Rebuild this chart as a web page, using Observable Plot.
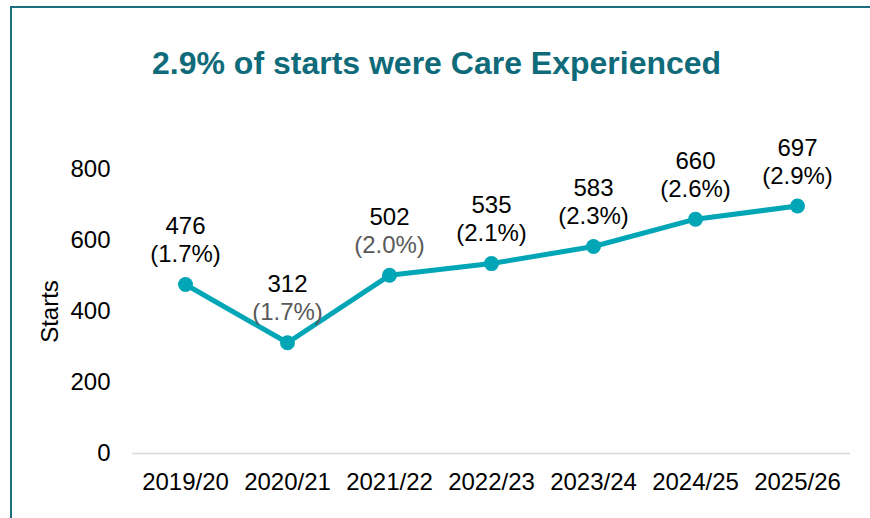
<!DOCTYPE html>
<html>
<head>
<meta charset="utf-8">
<script src="https://cdn.jsdelivr.net/npm/d3@7"></script>
<script src="https://cdn.jsdelivr.net/npm/@observablehq/plot@0.6"></script>
<style>
  html, body { margin: 0; padding: 0; background: #fff; overflow: hidden; }
  #wrap { position: relative; width: 870px; height: 518px; overflow: hidden; background: #fff; }
  #frame { position: absolute; left: 10px; top: 6px; width: 900px; height: 600px; border: 2px solid #1b6e7d; box-sizing: border-box; }
  #title { position: absolute; left: 152px; top: 45px; line-height: 32px; font: bold 32px "Liberation Sans", Arial, sans-serif; color: #0f6b79; white-space: nowrap; }
  #chart { position: absolute; left: 0; top: 0; }
</style>
</head>
<body>
<div id="wrap">
  <div id="frame"></div>
  <div id="chart"></div>
  <div id="title">2.9% of starts were Care Experienced</div>
</div>
<script>
const years = ["2019/20", "2020/21", "2021/22", "2022/23", "2023/24", "2024/25", "2025/26"];
const starts = [476, 312, 502, 535, 583, 660, 697];
const shares = ["1.7%", "1.7%", "2.0%", "2.1%", "2.3%", "2.6%", "2.9%"];
const greyShareYears = ["2020/21", "2021/22"];
const yTicks = [0, 200, 400, 600, 800];

const data = years.map((y, i) => ({year: y, starts: starts[i], share: shares[i]}));
const lineColor = "#00a6b6";
const font = "'Liberation Sans', Arial, sans-serif";

const chart = Plot.plot({
  width: 870,
  height: 518,
  marginLeft: 132,
  marginRight: 20,
  marginTop: 169,
  marginBottom: 65,
  style: {fontFamily: font, fontSize: "24px", color: "#000", background: "transparent", overflow: "visible"},
  x: {type: "point", domain: years, padding: 0.5},
  y: {domain: [0, 800]},
  marks: [
    Plot.ruleY([0], {stroke: "#d9d9d9", strokeWidth: 1.5}),
    Plot.axisY({ticks: yTicks, tickSize: 0, tickPadding: 22, fontSize: 24, label: "Starts", labelAnchor: "center", labelArrow: "none", labelOffset: 92, fill: "#000"}),
    Plot.axisX({tickSize: 0, tickPadding: 19, fontSize: 24, label: null, fill: "#000"}),
    Plot.line(data, {x: "year", y: "starts", stroke: lineColor, strokeWidth: 5}),
    Plot.dot(data, {x: "year", y: "starts", r: 7.5, fill: lineColor, stroke: "none"}),
    Plot.text(data, {x: "year", y: "starts", text: d => String(d.starts), dy: -58, fontSize: 24, fill: "#000"}),
    Plot.text(data, {x: "year", y: "starts", text: d => `(${d.share})`, dy: -30, fontSize: 24,
      fill: d => greyShareYears.includes(d.year) ? "#595959" : "#000000"}),
  ],
  color: {type: "identity"}
});
document.getElementById("chart").appendChild(chart);
</script>
</body>
</html>
